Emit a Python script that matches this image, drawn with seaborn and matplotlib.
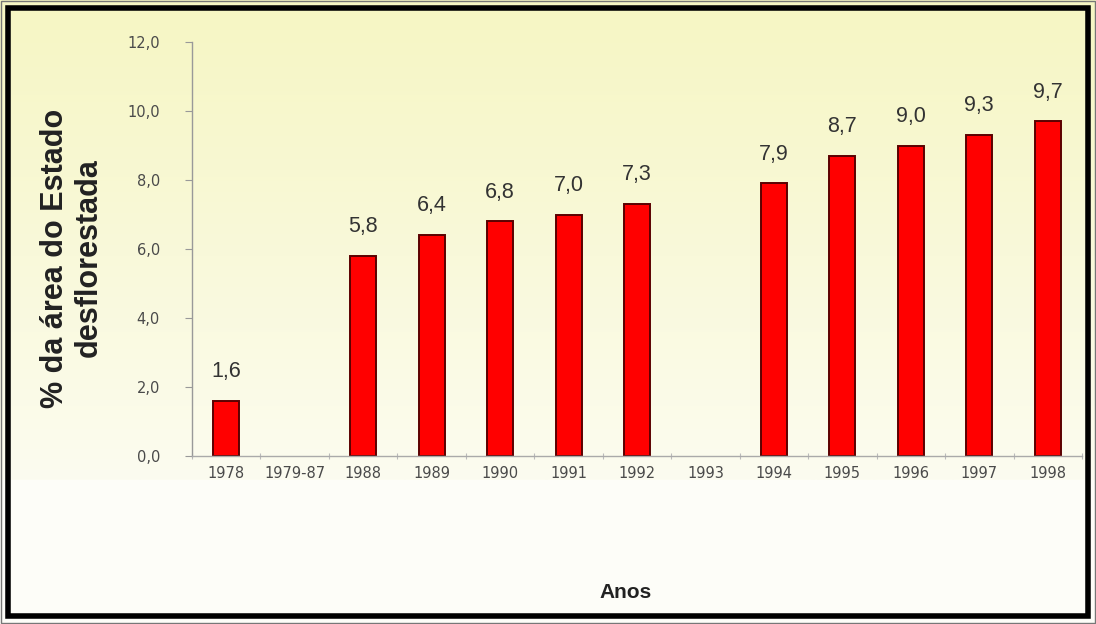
import numpy as np
import pandas as pd
import matplotlib
matplotlib.use("Agg")
import matplotlib.pyplot as plt
from matplotlib.patches import Rectangle
import seaborn as sns

anos = ["1978", "1979-87", "1988", "1989", "1990", "1991", "1992",
        "1993", "1994", "1995", "1996", "1997", "1998"]
desflorestada = [1.6, np.nan, 5.8, 6.4, 6.8, 7.0, 7.3,
                 np.nan, 7.9, 8.7, 9.0, 9.3, 9.7]
y_ticks = [0, 2, 4, 6, 8, 10, 12]

df = pd.DataFrame({"ano": anos, "pct": desflorestada})

sns.set_theme(style="white")
plt.rcParams["font.family"] = ["Liberation Sans", "DejaVu Sans"]

W, H = 1096, 624
fig = plt.figure(figsize=(W / 100, H / 100), dpi=100)

# background: pale yellow gradient fading to near-white in the upper panel
bg = fig.add_axes([0, 0, 1, 1], zorder=0)
bg.set_axis_off()
rows = np.linspace(0, 1, 300)[:, None]
top = np.array([246, 246, 196]) / 255
low = np.array([252, 252, 240]) / 255
grad = top + (low - top) * rows[..., None] ** 1.1
grad = np.repeat(grad, 2, axis=1)
bg.imshow(grad, extent=[0, 1, 1 - 480 / H, 1], aspect="auto", zorder=0)
bg.add_patch(Rectangle((0, 0), 1, 1 - 480 / H, color="#fdfdf8", zorder=0))
bg.set_xlim(0, 1)
bg.set_ylim(0, 1)

# frame
fig.patches.append(Rectangle((1 / W, 1 / H), 1 - 2 / W, 1 - 2 / H, transform=fig.transFigure,
                             fill=False, edgecolor="#777777", linewidth=1.0, zorder=5))
fig.patches.append(Rectangle((8 / W, 8 / H), 1 - 16 / W, 1 - 16 / H, transform=fig.transFigure,
                             fill=False, edgecolor="black", linewidth=4.0, zorder=5))

x0, x1 = 192, 1082
y0, y1 = 456, 42
ax = fig.add_axes([x0 / W, 1 - y0 / H, (x1 - x0) / W, (y0 - y1) / H], zorder=2)
ax.patch.set_alpha(0)

sns.barplot(data=df, x="ano", y="pct", order=anos, color="#ff0000",
            width=0.38, edgecolor="#5a0000", linewidth=1.4, saturation=1, ax=ax)

for i, v in enumerate(desflorestada):
    if not np.isnan(v):
        ax.text(i, v + 0.85, f"{v:.1f}".replace(".", ","), ha="center", va="center",
                fontsize=15.5, color="#333333")

tick_font = dict(family="DejaVu Sans", size=10.5)
ax.set_ylim(0, 12)
ax.set_xlim(-0.5, len(anos) - 0.5)
ax.set_yticks(y_ticks)
ax.set_yticklabels([f"{t:.1f}".replace(".", ",") for t in y_ticks], color="#4a4a4a",
                   fontdict=tick_font)
ax.set_xticks(range(len(anos)))
ax.set_xticklabels(anos, color="#4a4a4a", fontdict=tick_font)
ax.tick_params(axis="x", length=0, pad=7)
ax.tick_params(axis="y", length=5, width=0.8, color="#999999", direction="out", pad=18, left=True)
# separators between categories on the x axis
ax.set_xticks(np.arange(-0.5, len(anos), 1), minor=True)
ax.tick_params(axis="x", which="minor", length=5, width=0.8, color="#bbbbbb",
               direction="inout", bottom=True)

for side in ["top", "right"]:
    ax.spines[side].set_visible(False)
ax.spines["left"].set_color("#999999")
ax.spines["bottom"].set_color("#aaaaaa")
ax.spines["left"].set_linewidth(1.0)
ax.spines["bottom"].set_linewidth(1.0)

ax.set_xlabel("")
ax.set_ylabel("")
fig.text(72 / W, 1 - 258 / H, "% da área do Estado\ndesflorestada", rotation=90,
         ha="center", va="center", fontsize=22, fontweight="bold", color="#222222",
         linespacing=1.15)
fig.text(626 / W, 1 - 593 / H, "Anos", ha="center", va="center", fontsize=15,
         fontweight="bold", color="#222222")

fig.savefig("out.png", dpi=100)
